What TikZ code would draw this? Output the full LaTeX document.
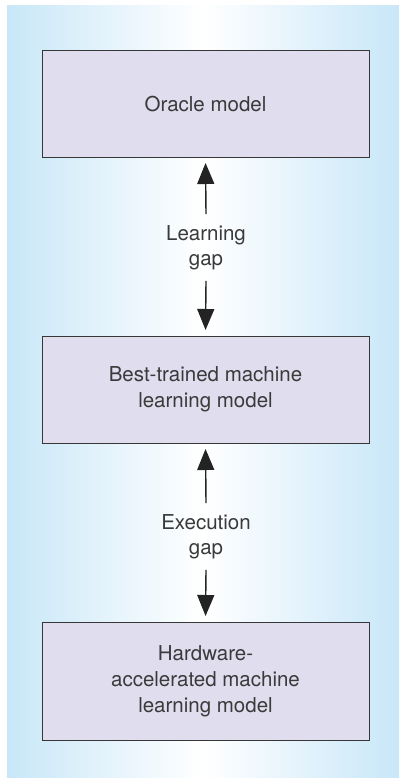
\documentclass[tikz,border=0pt]{standalone}
\usepackage{fontspec}
\setmainfont{TeX Gyre Heros}
\usetikzlibrary{arrows.meta}
\definecolor{panelblue}{RGB}{200,231,248}
\definecolor{boxfill}{RGB}{223,221,238}
\definecolor{boxline}{RGB}{55,55,55}
\definecolor{textgray}{RGB}{58,58,58}
\definecolor{arrowgray}{RGB}{35,35,35}

\begin{document}
\begin{tikzpicture}[x=1pt,y=-1pt,
    box/.style={draw=boxline,line width=1pt,fill=boxfill,minimum width=327pt,
      align=center,text=textgray,font=\fontsize{20.5}{26}\selectfont},
    gaplabel/.style={align=center,inner xsep=0pt,inner ysep=11pt,text=textgray,
      font=\fontsize{20.5}{25}\selectfont},
    gaparrow/.style={draw=arrowgray,line width=1.4pt,
      -{Triangle[width=17pt,length=21pt]},shorten >=5.5pt}]
  \useasboundingbox (0,0) rectangle (399,781);
  \shade[left color=panelblue,right color=panelblue,middle color=white] (7,6) rectangle (399,777);
  \node[box,minimum height=106pt] (oracle) at (205.5,104) {Oracle model};
  \node[box,minimum height=107pt] (best) at (205.5,389.5) {Best-trained machine\\learning model};
  \node[box,minimum height=118pt] (hw) at (205.5,681) {Hardware-\\accelerated machine\\learning model};
  \node[gaplabel] (learn) at (206,247.5) {Learning\\gap};
  \node[gaplabel] (exec) at (206,536.5) {Execution\\gap};
  \draw[gaparrow] (learn.north) -- (oracle.south);
  \draw[gaparrow] (learn.south) -- (best.north);
  \draw[gaparrow] (exec.north) -- (best.south);
  \draw[gaparrow] (exec.south) -- (hw.north);
\end{tikzpicture}
\end{document}
